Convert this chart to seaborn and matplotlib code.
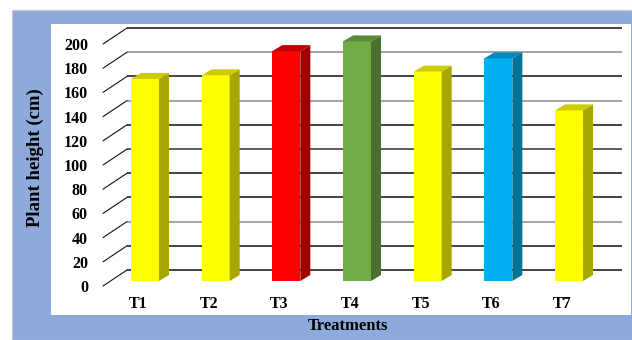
import numpy as np
import pandas as pd
import matplotlib
matplotlib.use("Agg")
import matplotlib.pyplot as plt
from matplotlib.patches import Rectangle, Polygon
import seaborn as sns

# ---- data ----
categories = ["T1", "T2", "T3", "T4", "T5", "T6", "T7"]
heights = [167, 170, 190, 198, 173, 184, 141]
y_ticks = [0, 20, 40, 60, 80, 100, 120, 140, 160, 180, 200]
front_colors = ["#FFFF00", "#FFFF00", "#FF0000", "#70AD47", "#FFFF00", "#00B0F0", "#FFFF00"]
side_colors = ["#A6A600", "#A6A600", "#A00000", "#4B6F2E", "#A6A600", "#007399", "#A6A600"]
top_colors = ["#CCCC00", "#CCCC00", "#C00000", "#5B8A3A", "#CCCC00", "#0089BF", "#CCCC00"]

sns.set_theme(style="white")
plt.rcParams["font.family"] = ["Liberation Serif", "DejaVu Serif"]
plt.rcParams["font.weight"] = "bold"

W, H = 632, 340
fig = plt.figure(figsize=(W / 100, H / 100), dpi=100)
fig.patch.set_facecolor("white")

def fx(px):
    return px / W

def fy(py):
    return 1 - py / H

# outer blue panel and inner white area (behind the axes)
fig.add_artist(Rectangle((fx(12), fy(340)), fx(632 - 12), 330 / H,
                         facecolor="#8EA9DB", edgecolor="#C8C8C8", lw=0.8, zorder=-10))
fig.add_artist(Rectangle((fx(51), fy(315)), fx(631 - 51), (315 - 24) / H,
                         facecolor="white", edgecolor="none", zorder=-9))

# axes placed in pixel layout
L, R, T, B = 103, 622, 28, 286
ax = fig.add_axes([fx(L), fy(B), fx(R - L), (B - T) / H])
ax.set_facecolor("none")
for s in ax.spines.values():
    s.set_visible(False)

# scales (pixels per data unit)
xc0 = 145.0          # pixel of first category centre
xstep = 70.67        # pixels per category
y0 = 281.0           # pixel of value 0 at bar front plane
ys = 1.21            # pixels per unit
ax.set_xlim(-(xc0 - L) / xstep, (R - xc0) / xstep)
ax.set_ylim((y0 - B) / ys, (y0 - T) / ys)

back_dy = 11 / ys          # back wall offset (up)
front_dy = 5 / ys          # floor front edge offset (down)
x_wall = (127 - xc0) / xstep
x_front = ax.get_xlim()[0]
x_right = ax.get_xlim()[1]

grid_cols = {0: "#111111", 20: "#111111", 40: "#8C8C8C", 60: "#111111", 80: "#111111",
             100: "#333333", 120: "#111111", 140: "#8C8C8C", 160: "#111111",
             180: "#8C8C8C", 200: "#111111"}
for v in y_ticks:
    ax.plot([x_wall, x_right], [v + back_dy, v + back_dy], color=grid_cols[v],
            lw=1.1, zorder=1, solid_capstyle="butt", clip_on=False)
    ax.plot([x_front, x_wall], [v - front_dy, v + back_dy], color="#111111",
            lw=0.8, zorder=1, clip_on=False)

# bars (front faces)
df = pd.DataFrame({"Treatment": categories, "Height": heights})
sns.barplot(data=df, x="Treatment", y="Height", hue="Treatment",
            palette=front_colors, saturation=1, width=0.396, legend=False,
            ax=ax, zorder=3, edgecolor="none")
ax.set_xlim(-(xc0 - L) / xstep, (R - xc0) / xstep)
ax.set_ylim((y0 - B) / ys, (y0 - T) / ys)

dx = 10 / xstep
dy = 6 / ys
for i, p in enumerate(list(ax.patches)):
    x0 = p.get_x()
    w = p.get_width()
    h = p.get_height()
    x1 = x0 + w
    side = Polygon([(x1, 0), (x1 + dx, dy), (x1 + dx, h + dy), (x1, h)],
                   closed=True, facecolor=side_colors[i], edgecolor="none", zorder=3)
    top = Polygon([(x0, h), (x0 + dx, h + dy), (x1 + dx, h + dy), (x1, h)],
                  closed=True, facecolor=top_colors[i], edgecolor="none", zorder=3)
    ax.add_patch(side)
    ax.add_patch(top)

# ticks
ax.set_yticks([v - front_dy for v in y_ticks])
ax.set_yticklabels([str(v) for v in y_ticks])
ax.set_xticks([i - 7 / xstep for i in range(len(categories))])
ax.set_xticklabels(categories)
ax.tick_params(axis="y", length=0, pad=10.8, labelsize=11.5, labelcolor="black")
ax.tick_params(axis="x", length=0, pad=7, labelsize=11.5, labelcolor="black")
for lab in ax.get_xticklabels() + ax.get_yticklabels():
    lab.set_fontweight("bold")

ax.set_xlabel("Treatments", fontsize=12, fontweight="bold", color="black")
ax.set_ylabel("Plant height (cm)", fontsize=13.5, fontweight="bold", color="black")
ax.xaxis.set_label_coords((348 - L) / (R - L), (B - 326.5) / (B - T))
ax.xaxis.label.set_va("center")
ax.yaxis.set_label_coords((35 - L) / (R - L), (B - 158) / (B - T))
ax.yaxis.label.set_va("center")

fig.savefig("out.png", dpi=100, facecolor="white")
